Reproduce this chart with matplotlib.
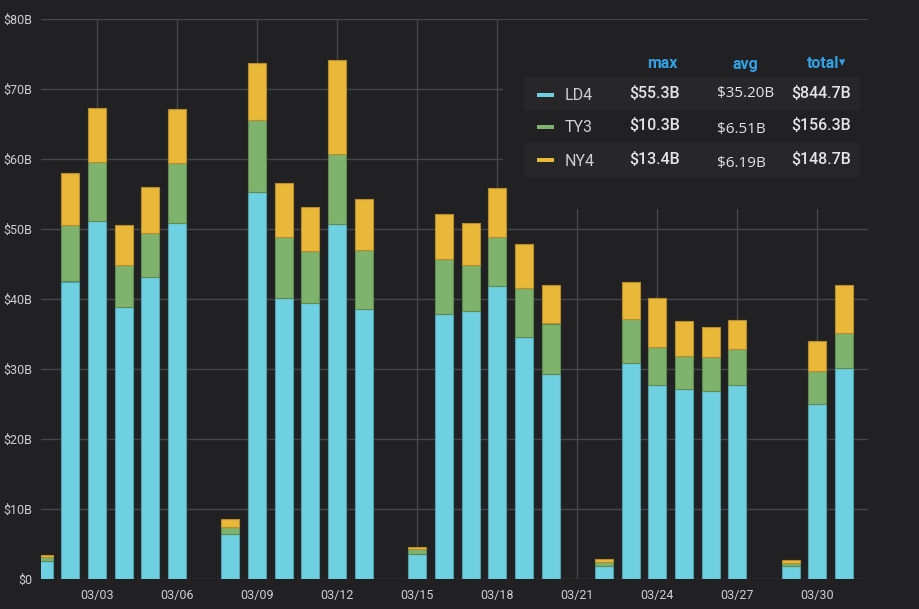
import matplotlib
matplotlib.use("Agg")
import matplotlib.pyplot as plt
from matplotlib.patches import Rectangle

# daily values in billions of dollars (March); days without data are left out
days = [1, 2, 3, 4, 5, 6, 8, 9, 10, 11, 12, 13, 15, 16, 17, 18, 19, 20,
        22, 23, 24, 25, 26, 27, 29, 30, 31]
ld4 = [2.6, 42.5, 51.1, 38.8, 43.2, 50.9, 6.5, 55.3, 40.1, 39.4, 50.7, 38.6,
       3.6, 37.9, 38.3, 41.9, 34.6, 29.3, 1.9, 30.8, 27.7, 27.2, 26.9, 27.7,
       1.85, 25.05, 30.2]
ty3 = [0.5, 8.0, 8.5, 6.1, 6.2, 8.5, 0.9, 10.3, 8.7, 7.5, 10.0, 8.4,
       0.7, 7.8, 6.6, 7.0, 7.0, 7.2, 0.6, 6.3, 5.5, 4.6, 4.8, 5.2,
       0.5, 4.6, 4.9]
ny4 = [0.35, 7.5, 7.7, 5.6, 6.6, 7.7, 1.1, 8.1, 7.8, 6.2, 13.4, 7.3,
       0.3, 6.5, 6.0, 7.0, 6.3, 5.45, 0.35, 5.3, 7.0, 5.0, 4.25, 4.15,
       0.3, 4.3, 6.9]

tick_days = [3, 6, 9, 12, 15, 18, 21, 24, 27, 30]
tick_labels = ['03/%02d' % d for d in tick_days]
y_ticks = [0, 10, 20, 30, 40, 50, 60, 70, 80]
y_labels = ['$0'] + ['$%dB' % v for v in y_ticks[1:]]

series = ['LD4', 'TY3', 'NY4']
max_text = ['$55.3B', '$10.3B', '$13.4B']
avg_text = ['$35.20B', '$6.51B', '$6.19B']
total_text = ['$844.7B', '$156.3B', '$148.7B']

BG = '#212124'
STRIPE = '#27272a'
GRID = '#46464a'
TEXT = '#d0d0d2'
BLUE_HDR = '#33a2e5'
colors = ['#6ed0e0', '#7eb26d', '#eab839']
edges = ['#4f9fac', '#5f8a52', '#b48d2c']

plt.rcParams['font.family'] = ['Roboto', 'DejaVu Sans']

W, H = 919, 609
fig = plt.figure(figsize=(W / 100, H / 100), dpi=100, facecolor=BG)


def fx(px):
    return px / W


def fy(py):
    return 1 - py / H


# axes box in pixels: left 41, right 868, top 19, bottom 579
ax = fig.add_axes([fx(41), fy(579), fx(868) - fx(41), fy(19) - fy(579)])
ax.set_facecolor(BG)

bottom2 = [a + b for a, b in zip(ld4, ty3)]
ax.bar(days, ld4, width=0.675, color=colors[0], edgecolor=edges[0], linewidth=0.8, zorder=3)
ax.bar(days, ty3, width=0.675, bottom=ld4, color=colors[1], edgecolor=edges[1], linewidth=0.8, zorder=3)
ax.bar(days, ny4, width=0.675, bottom=bottom2, color=colors[2], edgecolor=edges[2], linewidth=0.8, zorder=3)

ax.set_xlim(0.9, 31.9)
ax.set_ylim(0, 80)
ax.set_xticks(tick_days)
ax.set_xticklabels(tick_labels)
ax.set_yticks(y_ticks)
ax.set_yticklabels(y_labels)
ax.tick_params(length=0, colors=TEXT, labelsize=9)
ax.tick_params(axis='x', pad=7)
ax.tick_params(axis='y', pad=6)
ax.grid(True, color=GRID, linewidth=1)
ax.set_axisbelow(True)
for s in ax.spines.values():
    s.set_visible(False)

# legend container hides grid lines behind it (but not the bars)
ax.add_patch(Rectangle((fx(503), fy(209)), fx(868) - fx(503), fy(20) - fy(209),
                       transform=fig.transFigure, facecolor=BG, edgecolor='none',
                       zorder=1))

# table legend
for yy in [(77, 110), (143, 177)]:
    fig.patches.append(Rectangle((fx(524), fy(yy[1])), fx(860) - fx(524), fy(yy[0]) - fy(yy[1]),
                                 transform=fig.transFigure, facecolor=STRIPE,
                                 edgecolor='none', zorder=0))

fig.text(fx(662), fy(64), 'max', color=BLUE_HDR, fontsize=11.5, fontweight='bold', ha='center', va='center')
fig.text(fx(745), fy(64), 'avg', color=BLUE_HDR, fontsize=11.5, fontweight='bold', ha='center', va='center')
fig.text(fx(839), fy(64), 'total', color=BLUE_HDR, fontsize=11.5, fontweight='bold', ha='right', va='center')
fig.text(fx(839), fy(63), '\u25be', color=BLUE_HDR, fontsize=9, ha='left', va='center',
         family='DejaVu Sans')

row_y = [95, 127, 160]
avg_y = [93, 129, 163]
for i, name in enumerate(series):
    y = row_y[i]
    fig.patches.append(Rectangle((fx(537), fy(y + 2)), fx(554) - fx(537), fy(y - 2) - fy(y + 2),
                                 transform=fig.transFigure, facecolor=colors[i],
                                 edgecolor='none', zorder=1))
    fig.text(fx(565), fy(y + 1), name, color=TEXT, fontsize=11.5, ha='left', va='center')
    fig.text(fx(629), fy(y - 1), max_text[i], color='#e4e4e6', fontsize=11.5,
             fontweight='medium', ha='left', va='center')
    fig.text(fx(717), fy(avg_y[i]), avg_text[i], color='#e4e4e6', fontsize=11,
             family=['Open Sans', 'DejaVu Sans'], ha='left', va='center')
    fig.text(fx(791), fy(y - 1), total_text[i], color='#e4e4e6', fontsize=11.5,
             fontweight='medium', ha='left', va='center')

fig.savefig('out.png', dpi=100, facecolor=BG)
